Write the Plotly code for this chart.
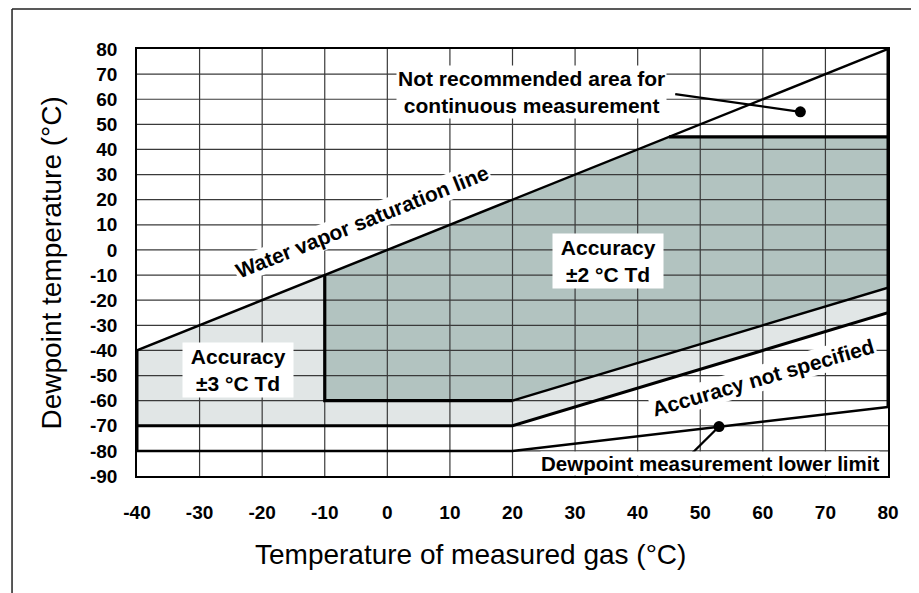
import plotly.graph_objects as go

# ---- axis ticks ----
x_ticks = [-40, -30, -20, -10, 0, 10, 20, 30, 40, 50, 60, 70, 80]
y_ticks = [-90, -80, -70, -60, -50, -40, -30, -20, -10, 0, 10, 20, 30, 40, 50, 60, 70, 80]
x_tick_labels = [str(v) for v in x_ticks]
y_tick_labels = [str(v) for v in y_ticks]

# ---- regions / lines (data coordinates) ----
sat_x = [-40, 80]
sat_y = [-40, 80]

light_x = [-40, -10, -10, 20, 80, 80, 20, -40]
light_y = [-40, -10, -60, -60, -15, -25, -70, -70]

dark_x = [-10, 45, 80, 80, 20, -10]
dark_y = [-10, 45, 45, -15, -60, -60]

dark_edge_x = [-10, -10, 20]
dark_edge_y = [-10, -60, -60]
dark_diag_x = [20, 80]
dark_diag_y = [-60, -15]
dark_top_x = [45, 80]
dark_top_y = [45, 45]

lim70_x = [-40, 20, 80]
lim70_y = [-70, -70, -25]

lim80_x = [-40, 20, 80]
lim80_y = [-80, -80, -62.5]

left_edge_x = [-40, -40]
left_edge_y = [-80, -40]
right_edge_x = [80, 80]
right_edge_y = [-62.5, 80]

# leader lines and dots
lead1_x = [46, 66]
lead1_y = [62, 55]
lead2_x = [48.8, 53]
lead2_y = [-80.7, -70.3]
dots_x = [66, 53]
dots_y = [55, -70.3]

FONT = "Liberation Sans, Arial, Helvetica, sans-serif"
DARK = "#b2c3c0"
LIGHT = "#e1e6e6"

fig = go.Figure()

# fills
fig.add_trace(go.Scatter(x=light_x, y=light_y, fill="toself", fillcolor=LIGHT,
                         mode="lines", line=dict(width=0), hoverinfo="skip", showlegend=False))
fig.add_trace(go.Scatter(x=dark_x, y=dark_y, fill="toself", fillcolor=DARK,
                         mode="lines", line=dict(width=0), hoverinfo="skip", showlegend=False))

# grid (drawn above the fills)
xmin, xmax = x_ticks[0], x_ticks[-1]
ymin, ymax = y_ticks[0], y_ticks[-1]
gx, gy = [], []
for v in x_ticks[1:-1]:
    gx += [v, v, None]
    gy += [ymin, ymax, None]
for v in y_ticks[1:-1]:
    gx += [xmin, xmax, None]
    gy += [v, v, None]
fig.add_trace(go.Scatter(x=gx, y=gy, mode="lines", line=dict(color="#3a3a3a", width=1.2),
                         hoverinfo="skip", showlegend=False))

def line(x, y, w):
    fig.add_trace(go.Scatter(x=x, y=y, mode="lines", line=dict(color="black", width=w),
                             hoverinfo="skip", showlegend=False, cliponaxis=False))

line(sat_x, sat_y, 2.5)
line(lim70_x, lim70_y, 3)
line(lim80_x, lim80_y, 2.5)
line(left_edge_x, left_edge_y, 3)
line(right_edge_x, right_edge_y, 3)
line(dark_edge_x, dark_edge_y, 3.2)
line(dark_diag_x, dark_diag_y, 2.5)
line(dark_top_x, dark_top_y, 3.2)
line(lead1_x, lead1_y, 2.2)
line(lead2_x, lead2_y, 2.2)

fig.add_trace(go.Scatter(x=dots_x, y=dots_y, mode="markers",
                         marker=dict(color="black", size=11), hoverinfo="skip",
                         showlegend=False, cliponaxis=False))

afont = dict(family=FONT, size=21, color="black", weight="bold")

def note(text, x, y, angle=0, pad=2):
    fig.add_annotation(x=x, y=y, xref="x", yref="y", text=text, showarrow=False,
                       textangle=angle, font=afont, bgcolor="white", borderpad=pad,
                       xanchor="center", yanchor="middle")

note("Water vapor saturation line", -4.0, 11.5, -21.8, 1)
note("Not recommended area for<br>continuous measurement", 23.1, 62.9, 0, 1)
note("&nbsp;Accuracy&nbsp;<br>±2 °C Td", 35.3, -4.4, 0, 2)
note("&nbsp;Accuracy&nbsp;<br>±3 °C Td", -23.9, -47.8, 0, 2)
note("Accuracy not specified", 60.0, -50.6, -16.2, 1)
fig.add_annotation(x=51.5, y=-85.2, xref="x", yref="y", text="Dewpoint measurement lower limit",
                   showarrow=False, font=dict(family=FONT, size=20.5, color="black", weight="bold"),
                   bgcolor="white", borderpad=0, xanchor="center", yanchor="middle")

# axis titles
fig.add_annotation(x=0.4447, y=-0.185, xref="paper", yref="paper",
                   text="Temperature of measured gas (°C)", showarrow=False,
                   font=dict(family=FONT, size=28, color="black"),
                   xanchor="center", yanchor="middle")
fig.add_annotation(x=-0.1132, y=0.5, xref="paper", yref="paper",
                   text="Dewpoint temperature (°C)", showarrow=False, textangle=-90,
                   font=dict(family=FONT, size=28, color="black"),
                   xanchor="center", yanchor="middle")

# outer frame (top + left)
frame_l, frame_t = -0.1664, 1.0937
fig.add_shape(type="line", xref="paper", yref="paper", x0=frame_l, x1=1.06, y0=frame_t, y1=frame_t,
              line=dict(color="#222", width=1.5))
fig.add_shape(type="line", xref="paper", yref="paper", x0=frame_l, x1=frame_l, y0=frame_t, y1=-0.35,
              line=dict(color="#222", width=1.5))

tfont = dict(family=FONT, size=19, color="black", weight="bold")
fig.update_xaxes(range=[xmin, xmax], tickvals=x_ticks, ticktext=x_tick_labels,
                 showgrid=False, zeroline=False,
                 showline=True, mirror=True, linecolor="black", linewidth=1.5,
                 ticks="", tickfont=tfont, ticklabelstandoff=18)
fig.update_yaxes(range=[ymin, ymax], tickvals=y_ticks, ticktext=y_tick_labels,
                 showgrid=False, zeroline=False,
                 showline=True, mirror=True, linecolor="black", linewidth=1.5,
                 ticks="", tickfont=tfont, ticklabelstandoff=14)

fig.update_layout(width=911, height=585, margin=dict(l=129, r=31, t=41, b=117),
                  paper_bgcolor="white", plot_bgcolor="white", showlegend=False)

fig.write_html("out.html")
